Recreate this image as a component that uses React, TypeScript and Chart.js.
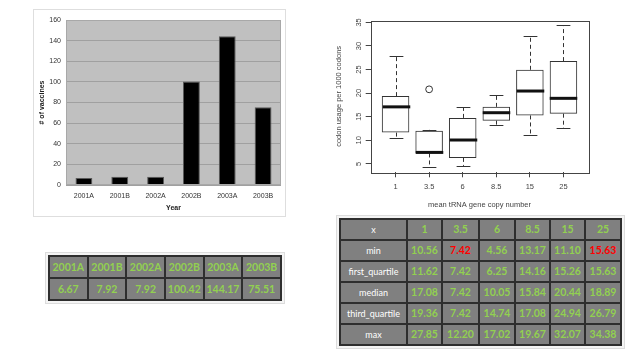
import React, { useEffect, useRef } from 'react';
import { Chart, registerables } from 'chart.js';
Chart.register(...registerables);

// ---- Bar chart data ----
const years = ['2001A', '2001B', '2002A', '2002B', '2003A', '2003B'];
const vaccines = [6.67, 7.92, 7.92, 100.42, 144.17, 75.51];

// ---- Box plot data ----
const copyNumbers = ['1', '3.5', '6', '8.5', '15', '25'];
const bpMin = [10.56, 4.4, 4.56, 13.17, 11.1, 12.6];
const bpQ1 = [11.62, 7.2, 6.25, 14.16, 15.26, 15.63];
const bpMed = [17.08, 7.42, 10.05, 15.84, 20.44, 18.89];
const bpQ3 = [19.36, 12.0, 14.74, 17.08, 24.94, 26.79];
const bpMax = [27.85, 12.2, 17.02, 19.67, 32.07, 34.38];
const outlierPos = [2];
const outlierVal = [20.8];
const bpYTicks = [5, 10, 15, 20, 25, 30, 35];

// ---- Table data ----
const leftTableHeader = years;
const leftTableValues = ['6.67', '7.92', '7.92', '100.42', '144.17', '75.51'];
const statHeader = ['x', '1', '3.5', '6', '8.5', '15', '25'];
const statNames = ['min', 'first_quartile', 'median', 'third_quartile', 'max'];
const statRows = [
  ['10.56', '7.42', '4.56', '13.17', '11.10', '15.63'],
  ['11.62', '7.42', '6.25', '14.16', '15.26', '15.63'],
  ['17.08', '7.42', '10.05', '15.84', '20.44', '18.89'],
  ['19.36', '7.42', '14.74', '17.08', '24.94', '26.79'],
  ['27.85', '12.20', '17.02', '19.67', '32.07', '34.38'],
];
const redCells = ['0-1', '0-5'];

const SANS = 'Liberation Sans, Arial, sans-serif';
const GREEN = '#92d050';
const CELL_BG = '#808080';

function BarChart() {
  const ref = useRef<HTMLCanvasElement>(null);
  useEffect(() => {
    const plotBg = {
      id: 'plotBg',
      beforeDraw(chart: any) {
        const { ctx, chartArea: a } = chart;
        ctx.save();
        ctx.fillStyle = '#c0c0c0';
        ctx.fillRect(a.left, a.top, a.right - a.left, a.bottom - a.top);
        ctx.restore();
      },
      afterDraw(chart: any) {
        const { ctx, chartArea: a } = chart;
        ctx.save();
        ctx.strokeStyle = '#a8a8a8';
        ctx.lineWidth = 1;
        ctx.strokeRect(Math.round(a.left) + 0.5, Math.round(a.top) + 0.5, Math.round(a.right - a.left) - 1, Math.round(a.bottom - a.top) - 1);
        ctx.restore();
      },
    };
    const chart = new Chart(ref.current as HTMLCanvasElement, {
      type: 'bar',
      data: {
        labels: years,
        datasets: [
          {
            data: vaccines,
            backgroundColor: '#000000',
            borderColor: '#5a5a5a',
            borderWidth: 1,
            categoryPercentage: 1,
            barPercentage: 0.47,
          },
        ],
      },
      options: {
        animation: false,
        responsive: false,
        devicePixelRatio: 1,
        layout: { padding: { top: 10, right: 4, left: 0, bottom: 0 } },
        plugins: { legend: { display: false }, tooltip: { enabled: false } },
        scales: {
          x: {
            grid: { display: false, drawTicks: false },
            border: { display: false },
            ticks: { font: { family: SANS, size: 7 }, color: '#333', padding: 7 },
            title: {
              display: true,
              text: 'Year',
              font: { family: SANS, size: 7, weight: 'bold' },
              color: '#222',
              padding: { top: 0, bottom: 4 },
            },
            afterFit(s: any) {
              s.height = 31;
            },
          },
          y: {
            min: 0,
            max: 160,
            ticks: { stepSize: 20, font: { family: SANS, size: 7 }, color: '#333', padding: 5 },
            grid: { color: '#a0a0a0', drawTicks: false, lineWidth: 1 },
            border: { display: false },
            title: {
              display: true,
              text: '# of vaccines',
              font: { family: SANS, size: 7, weight: 'bold' },
              color: '#222',
              padding: { top: 4, bottom: 0 },
            },
            afterFit(s: any) {
              s.width = 32;
            },
          },
        },
      } as any,
      plugins: [plotBg],
    });
    return () => chart.destroy();
  }, []);
  return (
    <canvas
      ref={ref}
      width={251}
      height={206}
      style={{ position: 'absolute', left: 34, top: 10, width: 251, height: 206 }}
    />
  );
}

function BoxPlot() {
  const ref = useRef<HTMLCanvasElement>(null);
  useEffect(() => {
    const boxParts = {
      id: 'boxParts',
      afterDatasetsDraw(chart: any) {
        const { ctx, chartArea: a } = chart;
        const xs = chart.scales.x;
        const ys = chart.scales.y;
        const meta = chart.getDatasetMeta(0);
        ctx.save();
        ctx.strokeStyle = '#333';
        for (let i = 0; i < copyNumbers.length; i++) {
          const el = meta.data[i];
          const half = el ? el.width / 2 : 13;
          const x = Math.round(xs.getPixelForValue(i + 1)) + 0.5;
          const yMin = ys.getPixelForValue(bpMin[i]);
          const yQ1 = ys.getPixelForValue(bpQ1[i]);
          const yQ3 = ys.getPixelForValue(bpQ3[i]);
          const yMax = ys.getPixelForValue(bpMax[i]);
          const yMed = ys.getPixelForValue(bpMed[i]);
          ctx.lineWidth = 1;
          ctx.setLineDash([4, 3]);
          ctx.beginPath();
          ctx.moveTo(x, yQ3);
          ctx.lineTo(x, yMax);
          ctx.moveTo(x, yQ1);
          ctx.lineTo(x, yMin);
          ctx.stroke();
          ctx.setLineDash([]);
          ctx.beginPath();
          ctx.moveTo(x - half / 2, Math.round(yMax) + 0.5);
          ctx.lineTo(x + half / 2, Math.round(yMax) + 0.5);
          ctx.moveTo(x - half / 2, Math.round(yMin) + 0.5);
          ctx.lineTo(x + half / 2, Math.round(yMin) + 0.5);
          ctx.stroke();
          ctx.lineWidth = 3;
          ctx.strokeStyle = '#111';
          ctx.beginPath();
          ctx.moveTo(x - half, yMed);
          ctx.lineTo(x + half, yMed);
          ctx.stroke();
          ctx.strokeStyle = '#333';
        }
        ctx.lineWidth = 1;
        ctx.strokeStyle = '#444';
        ctx.strokeRect(Math.round(a.left) + 0.5, Math.round(a.top) + 0.5, Math.round(a.right - a.left), Math.round(a.bottom - a.top));
        ctx.restore();
      },
    };
    const chart = new Chart(ref.current as HTMLCanvasElement, {
      type: 'bar',
      data: {
        datasets: [
          {
            type: 'bar',
            data: copyNumbers.map((_, i) => ({ x: i + 1, y: [bpQ1[i], bpQ3[i]] })),
            backgroundColor: 'rgba(255,255,255,0)',
            borderColor: '#333',
            borderWidth: 1,
            borderSkipped: false,
            categoryPercentage: 1,
            barPercentage: 0.82,
          },
          {
            type: 'scatter',
            data: outlierPos.map((p, i) => ({ x: p, y: outlierVal[i] })),
            pointStyle: 'circle',
            pointRadius: 3.4,
            backgroundColor: 'rgba(255,255,255,0)',
            borderColor: '#333',
            borderWidth: 1,
          },
        ],
      } as any,
      options: {
        animation: false,
        responsive: false,
        devicePixelRatio: 1,
        layout: { padding: { top: 10.5, right: 11.7, left: 0, bottom: 0 } },
        plugins: { legend: { display: false }, tooltip: { enabled: false } },
        scales: {
          x: {
            type: 'linear',
            offset: false,
            min: 0.26,
            max: 6.74,
            afterBuildTicks(s: any) {
              s.ticks = copyNumbers.map((_, i) => ({ value: i + 1 }));
            },
            ticks: {
              font: { family: SANS, size: 7.5 },
              color: '#444',
              padding: 5,
              autoSkip: false,
              maxRotation: 0,
              callback: (v: any) => copyNumbers[Math.round(v) - 1],
            },
            grid: { offset: false, drawOnChartArea: false, drawTicks: true, tickLength: 5, color: '#444' },
            border: { display: false },
            title: {
              display: true,
              text: 'mean tRNA gene copy number',
              font: { family: SANS, size: 7.5 },
              color: '#444',
              padding: { top: 0, bottom: 5.5 },
            },
            afterFit(s: any) {
              s.height = 42.7;
            },
          },
          y: {
            min: 3.2,
            max: 35.4,
            afterBuildTicks(s: any) {
              s.ticks = bpYTicks.map((v) => ({ value: v }));
            },
            ticks: {
              font: { family: SANS, size: 7.5 },
              color: '#444',
              padding: 2.5,
              minRotation: 90,
              maxRotation: 90,
              crossAlign: 'center',
            },
            grid: { drawOnChartArea: false, drawTicks: true, tickLength: 5, color: '#444' },
            border: { display: false },
            title: {
              display: true,
              text: 'codon usage per 1000 codons',
              font: { family: SANS, size: 7.5 },
              color: '#444',
              padding: { top: 14.5, bottom: 0 },
            },
            afterFit(s: any) {
              s.width = 50.7;
            },
          },
        },
      } as any,
      plugins: [boxParts],
    });
    return () => chart.destroy();
  }, []);
  return (
    <canvas
      ref={ref}
      width={280}
      height={205}
      style={{ position: 'absolute', left: 320, top: 10, width: 280, height: 205 }}
    />
  );
}

const cellBase: React.CSSProperties = {
  background: CELL_BG,
  border: '2px solid #2e2e2e',
  padding: 0,
  textAlign: 'center',
  verticalAlign: 'middle',
  fontFamily: 'Lato, sans-serif',
  fontWeight: 'bold',
  color: GREEN,
  lineHeight: 1,
  overflow: 'hidden',
  whiteSpace: 'nowrap',
};

function LeftTable() {
  return (
    <table
      style={{
        position: 'absolute',
        left: 48,
        top: 255,
        width: 234,
        height: 43,
        borderCollapse: 'collapse',
        tableLayout: 'fixed',
        boxShadow: '0 0 0 2px #f4f4f4, 0 0 0 3px #dcdcdc',
      }}
    >
      <tbody>
        <tr>
          {leftTableHeader.map((h) => (
            <td key={h} style={{ ...cellBase, fontSize: 10.5, height: 20 }}>
              {h}
            </td>
          ))}
        </tr>
        <tr>
          {leftTableValues.map((v, i) => (
            <td key={i} style={{ ...cellBase, fontSize: 10.5, height: 20 }}>
              {v}
            </td>
          ))}
        </tr>
      </tbody>
    </table>
  );
}

function RightTable() {
  const colW = [67, 35, 37, 36, 35, 35, 36];
  return (
    <table
      style={{
        position: 'absolute',
        left: 339,
        top: 218,
        width: 281,
        height: 125,
        borderCollapse: 'collapse',
        tableLayout: 'fixed',
        boxShadow: '0 0 0 2px #f4f4f4, 0 0 0 3px #dcdcdc',
      }}
    >
      <colgroup>
        {colW.map((w, i) => (
          <col key={i} style={{ width: w }} />
        ))}
      </colgroup>
      <tbody>
        <tr>
          {statHeader.map((h, i) => (
            <td
              key={i}
              style={{
                ...cellBase,
                height: 19,
                fontSize: i === 0 ? 9 : 10.5,
                fontWeight: i === 0 ? 'normal' : 'bold',
                color: i === 0 ? '#ffffff' : GREEN,
              }}
            >
              {h}
            </td>
          ))}
        </tr>
        {statNames.map((name, r) => (
          <tr key={name}>
            <td style={{ ...cellBase, height: 19, fontSize: 9, fontWeight: 'normal', color: '#ffffff' }}>{name}</td>
            {statRows[r].map((v, c) => (
              <td
                key={c}
                style={{
                  ...cellBase,
                  height: 19,
                  fontSize: 10.5,
                  color: redCells.includes(`${r}-${c}`) ? '#ff0000' : GREEN,
                }}
              >
                {v}
              </td>
            ))}
          </tr>
        ))}
      </tbody>
    </table>
  );
}

export default function App() {
  return (
    <div style={{ position: 'fixed', left: 0, top: 0, width: 637, height: 357, background: '#ffffff', overflow: 'hidden' }}>
      <div
        style={{
          position: 'absolute',
          left: 33,
          top: 9,
          width: 251,
          height: 206,
          border: '1px solid #dedede',
        }}
      />
      <BarChart />
      <BoxPlot />
      <LeftTable />
      <RightTable />
    </div>
  );
}
